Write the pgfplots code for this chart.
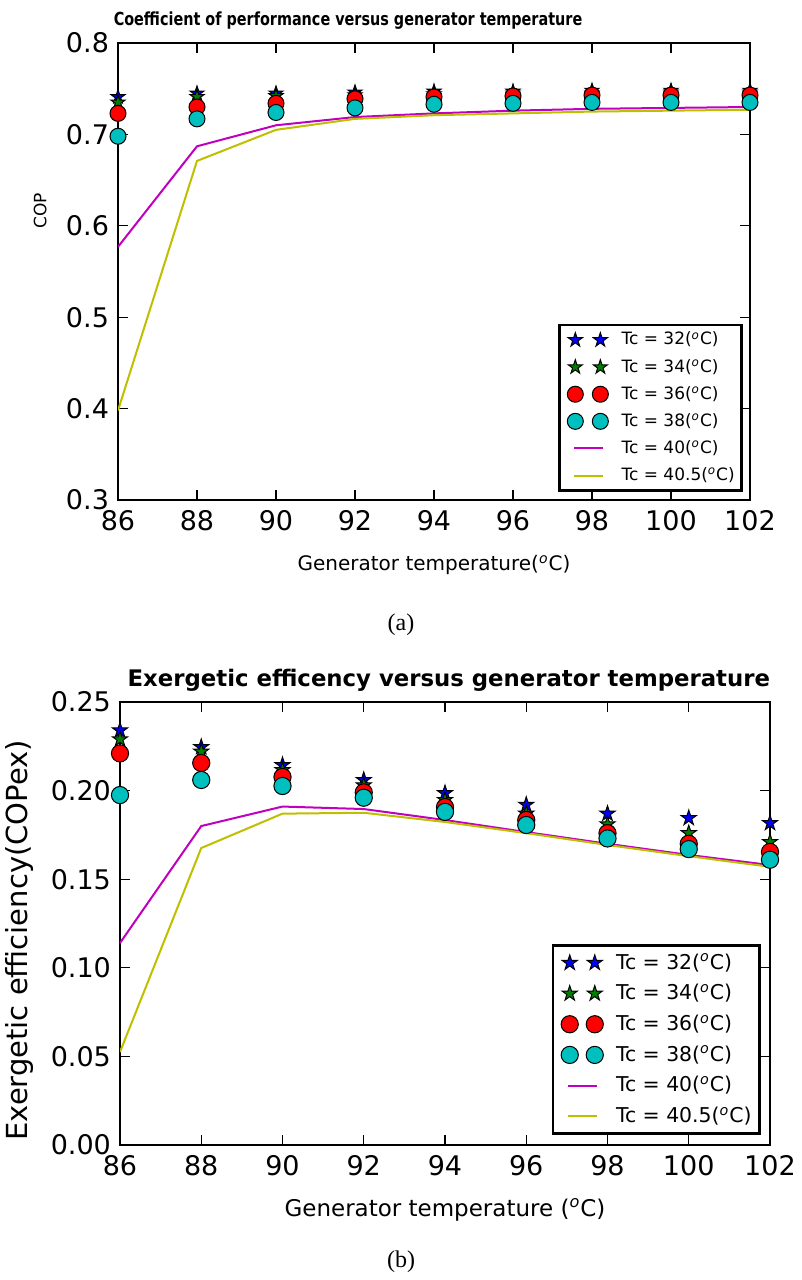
\documentclass[border=0pt]{standalone}
\usepackage{fontspec}
\setmainfont{DejaVu Sans}
\newfontfamily\capfont{Liberation Serif}
\usepackage{graphicx}
\usepackage{pgfplots}
\usepackage{pgfplotstable}
\pgfplotsset{compat=1.18}

% filled five-pointed star, like matplotlib's '*'
\pgfdeclareplotmark{fstar}{%
  \pgfpathmoveto{\pgfpointpolar{90}{\pgfplotmarksize}}%
  \pgfpathlineto{\pgfpointpolar{126}{0.382\pgfplotmarksize}}%
  \pgfpathlineto{\pgfpointpolar{162}{\pgfplotmarksize}}%
  \pgfpathlineto{\pgfpointpolar{198}{0.382\pgfplotmarksize}}%
  \pgfpathlineto{\pgfpointpolar{234}{\pgfplotmarksize}}%
  \pgfpathlineto{\pgfpointpolar{270}{0.382\pgfplotmarksize}}%
  \pgfpathlineto{\pgfpointpolar{306}{\pgfplotmarksize}}%
  \pgfpathlineto{\pgfpointpolar{342}{0.382\pgfplotmarksize}}%
  \pgfpathlineto{\pgfpointpolar{18}{\pgfplotmarksize}}%
  \pgfpathlineto{\pgfpointpolar{54}{0.382\pgfplotmarksize}}%
  \pgfpathclose\pgfusepathqfillstroke}

\definecolor{mplgreen}{rgb}{0,0.5,0}
\definecolor{mplcyan}{rgb}{0,0.75,0.75}
\definecolor{mplmag}{rgb}{0.75,0,0.75}
\definecolor{mplyel}{rgb}{0.75,0.75,0}

\newcommand{\dg}{(\textsuperscript{\itshape o}C)}

\pgfplotsset{
  panel/.style={
    scale only axis,
    xmin=86, xmax=102,
    xtick={86,88,...,102},
    tick label style={font=\fontsize{13.5}{16}\selectfont},
    xticklabel style={yshift=-1.5pt},
    /pgf/number format/assume math mode=true,
    axis line style={line width=1.3pt},
    major tick length=5pt,
    tick style={black, line width=0.6pt},
    legend cell align=left,
  },
  twomarks/.style={legend image code/.code={%
    \path (-0.2cm,0cm) (0.72cm,0cm);
    \draw[mark repeat=1, mark phase=1, ##1] plot coordinates {(0cm,0cm) (0.44cm,0cm)};}},
  shortline/.style={legend image code/.code={%
    \path (-0.2cm,0cm) (0.72cm,0cm);
    \draw[##1] (-0.03cm,0cm) -- (0.48cm,0cm);}},
}

\pgfplotstableread{
x    b      g      r      c      m      y
86   0.741  0.735  0.723  0.698  0.577  0.398
88   0.745  0.741  0.730  0.717  0.687  0.671
90   0.745  0.742  0.734  0.724  0.710  0.705
92   0.746  0.743  0.739  0.729  0.719  0.717
94   0.747  0.744  0.741  0.733  0.723  0.721
96   0.747  0.745  0.742  0.734  0.726  0.723
98   0.748  0.745  0.743  0.735  0.728  0.725
100  0.748  0.746  0.743  0.735  0.729  0.726
102  0.748  0.746  0.743  0.735  0.730  0.727
}\dataA

\pgfplotstableread{
x    b       g       r       c       m       y
86   0.2340  0.2290  0.2210  0.1975  0.1140  0.0525
88   0.2246  0.2220  0.2156  0.2060  0.1800  0.1676
90   0.2144  0.2116  0.2077  0.2026  0.1910  0.1870
92   0.2060  0.2030  0.1990  0.1960  0.1896  0.1875
94   0.1986  0.1947  0.1907  0.1880  0.1834  0.1823
96   0.1920  0.1870  0.1834  0.1806  0.1766  0.1760
98   0.1870  0.1810  0.1760  0.1730  0.1700  0.1693
100  0.1845  0.1760  0.1700  0.1670  0.1637  0.1630
102  0.1817  0.1710  0.1654  0.1610  0.1580  0.1570
}\dataB

\begin{document}
\begin{tikzpicture}
% ---------- (a) ----------
\begin{axis}[panel,
  at={(59pt,-250pt)}, anchor=south west,
  width=316pt, height=228.5pt,
  ymin=0.3, ymax=0.8,
  ytick={0.3,0.4,...,0.8},
  yticklabel style={xshift=-1pt, /pgf/number format/.cd, fixed, fixed zerofill, precision=1},
  title={\scalebox{0.8}[1]{Coefficient of performance versus generator temperature}},
  title style={at={(axis description cs:0.364,1.05)}, anchor=center, yshift=-6pt,
    font=\bfseries\fontsize{9}{10}\selectfont},
  xlabel={Generator temperature\dg},
  xlabel style={at={(axis description cs:0.5,-0.142)}, anchor=center,
    font=\fontsize{10}{12}\selectfont},
  ylabel={COP},
  ylabel style={at={(axis description cs:-0.123,0.633)}, anchor=center, rotate=0,
    font=\fontsize{8.5}{10}\selectfont},
  legend style={at={(axis description cs:0.989,0.018)}, anchor=south east,
    draw=black, line width=1.3pt, font=\fontsize{8.5}{10}\selectfont,
    row sep=1.6pt, inner sep=1.5pt},
]
\addplot[only marks, mark=fstar, mark size=3.7pt,
  mark options={fill=blue, draw=black, line width=0.5pt}, twomarks]
  table[x=x, y=b]{\dataA};
\addlegendentry{Tc = 32\dg}
\addplot[only marks, mark=fstar, mark size=3.7pt,
  mark options={fill=mplgreen, draw=black, line width=0.5pt}, twomarks]
  table[x=x, y=g]{\dataA};
\addlegendentry{Tc = 34\dg}
\addplot[only marks, mark=*, mark size=4pt,
  mark options={fill=red, draw=black, line width=0.5pt}, twomarks]
  table[x=x, y=r]{\dataA};
\addlegendentry{Tc = 36\dg}
\addplot[only marks, mark=*, mark size=4pt,
  mark options={fill=mplcyan, draw=black, line width=0.5pt}, twomarks]
  table[x=x, y=c]{\dataA};
\addlegendentry{Tc = 38\dg}
\addplot[mplmag, line width=1pt, no marks, shortline] table[x=x, y=m]{\dataA};
\addlegendentry{Tc = 40\dg}
\addplot[mplyel, line width=1pt, no marks, shortline] table[x=x, y=y]{\dataA};
\addlegendentry{Tc = 40.5\dg}
\end{axis}

% ---------- (b) ----------
\begin{axis}[panel,
  at={(60pt,-572.5pt)}, anchor=south west,
  width=325pt, height=221.5pt,
  ymin=0, ymax=0.25,
  ytick={0,0.05,...,0.25},
  yticklabel style={xshift=-1pt, /pgf/number format/.cd, fixed, fixed zerofill, precision=2},
  title={Exergetic efficency versus generator temperature},
  title style={at={(axis description cs:0.506,1.05)}, anchor=center, yshift=-6pt,
    font=\bfseries\fontsize{11.4}{13}\selectfont},
  xlabel={Generator temperature \dg},
  xlabel style={at={(axis description cs:0.5,-0.147)}, anchor=center,
    font=\fontsize{11.5}{13}\selectfont},
  ylabel={Exergetic efficiency(COPex)},
  ylabel style={at={(axis description cs:-0.154,0.462)}, anchor=center,
    font=\fontsize{14.5}{16}\selectfont},
  legend style={at={(axis description cs:0.986,0.023)}, anchor=south east,
    draw=black, line width=1.3pt, font=\fontsize{10.2}{12}\selectfont,
    row sep=2.1pt, inner sep=2pt},
]
\addplot[only marks, mark=fstar, mark size=4pt,
  mark options={fill=blue, draw=black, line width=0.5pt}, twomarks]
  table[x=x, y=b]{\dataB};
\addlegendentry{Tc = 32\dg}
\addplot[only marks, mark=fstar, mark size=4pt,
  mark options={fill=mplgreen, draw=black, line width=0.5pt}, twomarks]
  table[x=x, y=g]{\dataB};
\addlegendentry{Tc = 34\dg}
\addplot[only marks, mark=*, mark size=4.3pt,
  mark options={fill=red, draw=black, line width=0.5pt}, twomarks]
  table[x=x, y=r]{\dataB};
\addlegendentry{Tc = 36\dg}
\addplot[only marks, mark=*, mark size=4.3pt,
  mark options={fill=mplcyan, draw=black, line width=0.5pt}, twomarks]
  table[x=x, y=c]{\dataB};
\addlegendentry{Tc = 38\dg}
\addplot[mplmag, line width=1pt, no marks, shortline] table[x=x, y=m]{\dataB};
\addlegendentry{Tc = 40\dg}
\addplot[mplyel, line width=1pt, no marks, shortline] table[x=x, y=y]{\dataB};
\addlegendentry{Tc = 40.5\dg}
\end{axis}

\node[font=\capfont\fontsize{12}{14}\selectfont] at (200.5pt,-312.5pt) {(a)};
\node[font=\capfont\fontsize{12}{14}\selectfont] at (200.5pt,-631pt) {(b)};
\pgfresetboundingbox
\path (0,0) rectangle (401pt,-640pt);
\end{tikzpicture}
\end{document}
